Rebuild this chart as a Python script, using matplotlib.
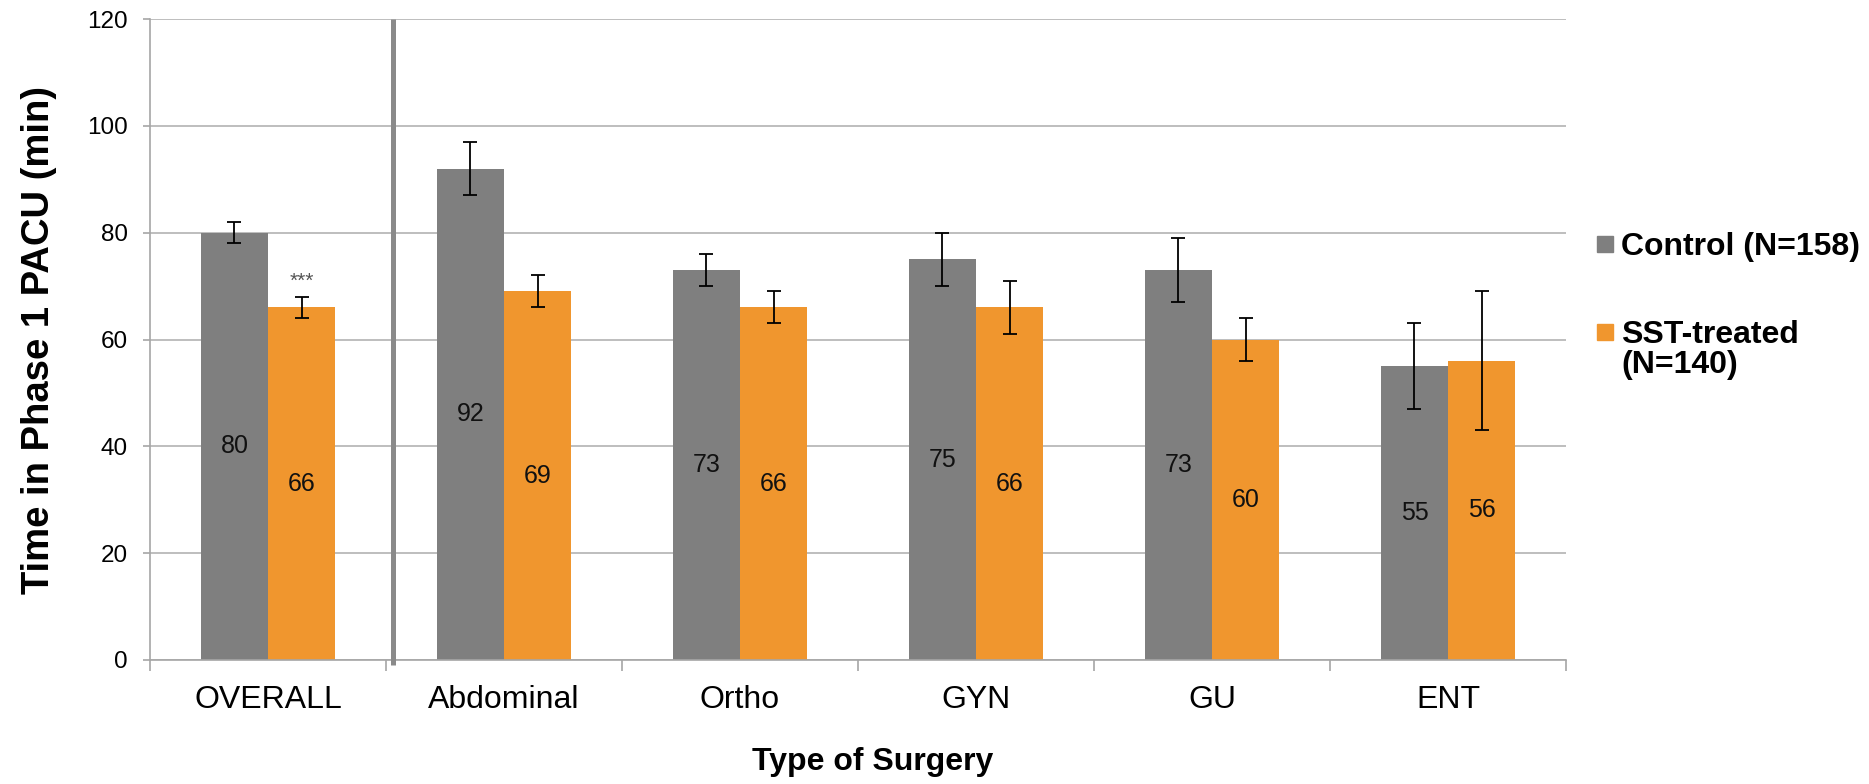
import numpy as np
import matplotlib
matplotlib.use('Agg')
import matplotlib.pyplot as plt
from matplotlib.patches import Rectangle

plt.rcParams['font.family'] = ['Liberation Sans', 'DejaVu Sans']

# ============================================================
# Data
# ============================================================
categories = ['OVERALL', 'Abdominal', 'Ortho', 'GYN', 'GU', 'ENT']
control = [80, 92, 73, 75, 73, 55]
control_err = [2, 5, 3, 5, 6, 8]
sst = [66, 69, 66, 66, 60, 56]
sst_err = [2, 3, 3, 5, 4, 13]
series_names = ['Control (N=158)', 'SST-treated\n(N=140)']

GRAY = '#7f7f7f'
ORANGE = '#f0962e'

# ============================================================
# Figure
# ============================================================
fig = plt.figure(figsize=(18.69, 7.84), dpi=100)
ax = fig.add_axes([150 / 1869, 1 - 660 / 784, 1416 / 1869, 641 / 784])

x = np.arange(len(categories))
w = 0.284
ax.bar(x - w / 2, control, w, color=GRAY, zorder=2)
ax.bar(x + w / 2, sst, w, color=ORANGE, zorder=2)
ax.errorbar(x - w / 2, control, yerr=control_err, fmt='none', ecolor='black',
            elinewidth=1.3, capsize=4.8, capthick=1.3, zorder=3)
ax.errorbar(x + w / 2, sst, yerr=sst_err, fmt='none', ecolor='black',
            elinewidth=1.3, capsize=4.8, capthick=1.3, zorder=3)

# value labels in the middle of each bar
for xi, v in zip(x - w / 2, control):
    ax.text(xi, v / 2, str(v), ha='center', va='center', fontsize=18, color='#111111', zorder=4)
for xi, v in zip(x + w / 2, sst):
    ax.text(xi, v / 2, str(v), ha='center', va='center', fontsize=18, color='#111111', zorder=4)

# significance marker
ax.text(x[0] + w / 2, sst[0] + sst_err[0] + 1.2, '***', ha='center', va='bottom',
        fontsize=15, color='#555555')

# divider between overall and subgroups
ax.plot([0.53, 0.53], [-0.9, 120], color='#8a8a8a', lw=3.6, clip_on=False, zorder=5,
        solid_capstyle='butt')

ax.set_xlim(-0.5, len(categories) - 0.5)
ax.set_ylim(0, 120)
ax.set_yticks(np.arange(0, 121, 20))
ax.yaxis.grid(True, color='#b3b3b3', lw=1.2, zorder=0)
ax.set_axisbelow(True)

ax.set_xticks(x)
ax.set_xticklabels(categories, fontsize=23)
ax.set_xticks(np.arange(-0.5, len(categories)), minor=True)
ax.tick_params(axis='x', which='major', length=0, pad=18)
ax.tick_params(axis='x', which='minor', length=8, color='#a6a6a6', width=1.2)
ax.tick_params(axis='y', length=5, color='#a6a6a6', width=1.2, labelsize=17.5, pad=11)

for s in ['top', 'right']:
    ax.spines[s].set_visible(False)
ax.spines['left'].set_color('#a6a6a6')
ax.spines['bottom'].set_color('#a6a6a6')
ax.spines['left'].set_linewidth(1.2)
ax.spines['bottom'].set_linewidth(1.2)

ax.set_ylabel('Time in Phase 1 PACU (min)', fontsize=27.5, fontweight='bold')
ax.yaxis.set_label_coords(-0.066, 0.5)
ax.set_xlabel('Type of Surgery', fontsize=23, fontweight='bold')
ax.xaxis.set_label_coords(0.51, -0.135)

# ============================================================
# Legend (drawn by hand so the marker sits on the first line)
# ============================================================
leg_colors = [GRAY, ORANGE]
leg_mid = [244, 332]
for clr, name, yy in zip(leg_colors, series_names, leg_mid):
    fig.patches.append(Rectangle((1597 / 1869, 1 - (yy + 8) / 784), 16 / 1869, 16 / 784,
                                 transform=fig.transFigure, color=clr))
    fig.text(1621 / 1869, 1 - (yy - 12) / 784, name, fontsize=23, fontweight='bold',
             va='top', ha='left', linespacing=1.0,
             transform=fig.transFigure)

fig.savefig('out.png', dpi=100)
